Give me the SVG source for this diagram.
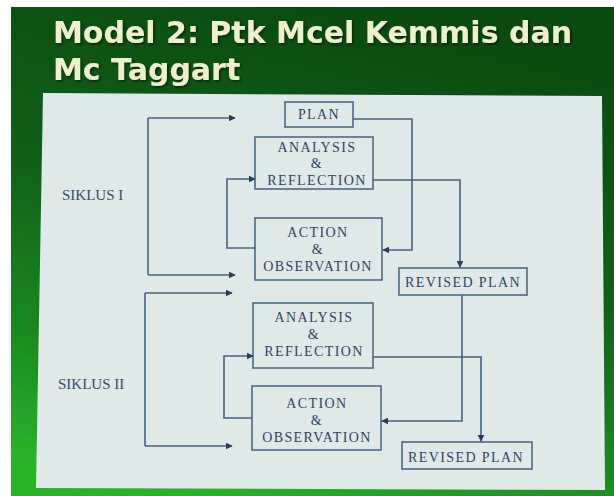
<svg xmlns="http://www.w3.org/2000/svg" width="614" height="496" viewBox="0 0 614 496">
  <style>
    .title { font-family: "DejaVu Sans", "Liberation Sans", sans-serif; font-weight: bold; font-size: 30px; fill: #eef0cc; }
    .box { fill: none; stroke: #4d6887; stroke-width: 1.6; }
    .lbl { font-family: "Liberation Serif", "DejaVu Serif", serif; font-size: 14px; fill: #2f4466; letter-spacing: 1.4px; text-anchor: middle; }
    .side { font-family: "Liberation Serif", "DejaVu Serif", serif; font-size: 15px; fill: #3a4c6a; }
    .conn { fill: none; stroke: #476282; stroke-width: 1.6; }
  </style>
  <defs>
    <linearGradient id="bg" x1="0.6" y1="0" x2="0.3" y2="1">
      <stop offset="0" stop-color="#0b4a10"/>
      <stop offset="0.45" stop-color="#116019"/>
      <stop offset="0.8" stop-color="#1c8e21"/>
      <stop offset="1" stop-color="#2ab12a"/>
    </linearGradient>
    <filter id="ts" x="-5%" y="-20%" width="110%" height="150%">
      <feDropShadow dx="1.5" dy="1.5" stdDeviation="0.8" flood-color="#061a08" flood-opacity="0.85"/>
    </filter>
    <marker id="arr" viewBox="0 0 10 10" refX="9" refY="5" markerWidth="7" markerHeight="7" markerUnits="userSpaceOnUse" orient="auto">
      <path d="M0,0 L10,5 L0,10 Z" fill="#2a3c58"/>
    </marker>
  </defs>

  <rect x="0" y="0" width="614" height="496" fill="#ffffff"/>
  <rect x="11" y="7" width="603" height="489" fill="url(#bg)"/>
  <polygon points="43,93 602,96 605,490 36,488" fill="#dfe9e7"/>

  <g id="title" filter="url(#ts)">
    <text class="title" x="53" y="43">Model 2: Ptk Mcel Kemmis dan</text>
    <text class="title" x="53" y="80">Mc Taggart</text>
  </g>

  <g id="siklus1-label"><text class="side" x="62" y="200">SIKLUS I</text></g>
  <g id="siklus2-label"><text class="side" x="58" y="389">SIKLUS II</text></g>

  <g id="plan">
    <rect class="box" x="285" y="102" width="68" height="25"/>
    <text class="lbl" x="319" y="119">PLAN</text>
  </g>
  <g id="analysis1">
    <rect class="box" x="255" y="137" width="118" height="52"/>
    <text class="lbl" x="317" y="152">ANALYSIS</text>
    <text class="lbl" x="317" y="168">&amp;</text>
    <text class="lbl" x="317" y="185">REFLECTION</text>
  </g>
  <g id="action1">
    <rect class="box" x="255" y="218" width="127" height="62"/>
    <text class="lbl" x="318" y="237">ACTION</text>
    <text class="lbl" x="318" y="254">&amp;</text>
    <text class="lbl" x="318" y="271">OBSERVATION</text>
  </g>
  <g id="revised1">
    <rect class="box" x="399" y="268" width="128" height="27"/>
    <text class="lbl" x="463" y="287">REVISED PLAN</text>
  </g>

  <g id="analysis2">
    <rect class="box" x="253" y="303" width="120" height="65"/>
    <text class="lbl" x="314" y="322">ANALYSIS</text>
    <text class="lbl" x="314" y="339">&amp;</text>
    <text class="lbl" x="314" y="356">REFLECTION</text>
  </g>
  <g id="action2">
    <rect class="box" x="252" y="386" width="129" height="64"/>
    <text class="lbl" x="317" y="408">ACTION</text>
    <text class="lbl" x="317" y="425">&amp;</text>
    <text class="lbl" x="317" y="442">OBSERVATION</text>
  </g>
  <g id="revised2">
    <rect class="box" x="402" y="442" width="130" height="27"/>
    <text class="lbl" x="466" y="462">REVISED PLAN</text>
  </g>

  <g id="connectors">
    <polyline class="conn" points="148,118 148,275"/>
    <polyline class="conn" points="148,118 235,118" marker-end="url(#arr)"/>
    <polyline class="conn" points="148,275 235,275" marker-end="url(#arr)"/>
    <polyline class="conn" points="255,248 227,248 227,179 255,179" marker-end="url(#arr)"/>
    <polyline class="conn" points="353,119 412,119 412,250 383,250" marker-end="url(#arr)"/>
    <polyline class="conn" points="373,180 460,180 460,267" marker-end="url(#arr)"/>

    <polyline class="conn" points="145,293 145,446"/>
    <polyline class="conn" points="145,293 232,293" marker-end="url(#arr)"/>
    <polyline class="conn" points="145,446 232,446" marker-end="url(#arr)"/>
    <polyline class="conn" points="252,418 224,418 224,356 253,356" marker-end="url(#arr)"/>
    <polyline class="conn" points="462,295 462,421 382,421" marker-end="url(#arr)"/>
    <polyline class="conn" points="373,357 481,357 481,441" marker-end="url(#arr)"/>
  </g>
</svg>
